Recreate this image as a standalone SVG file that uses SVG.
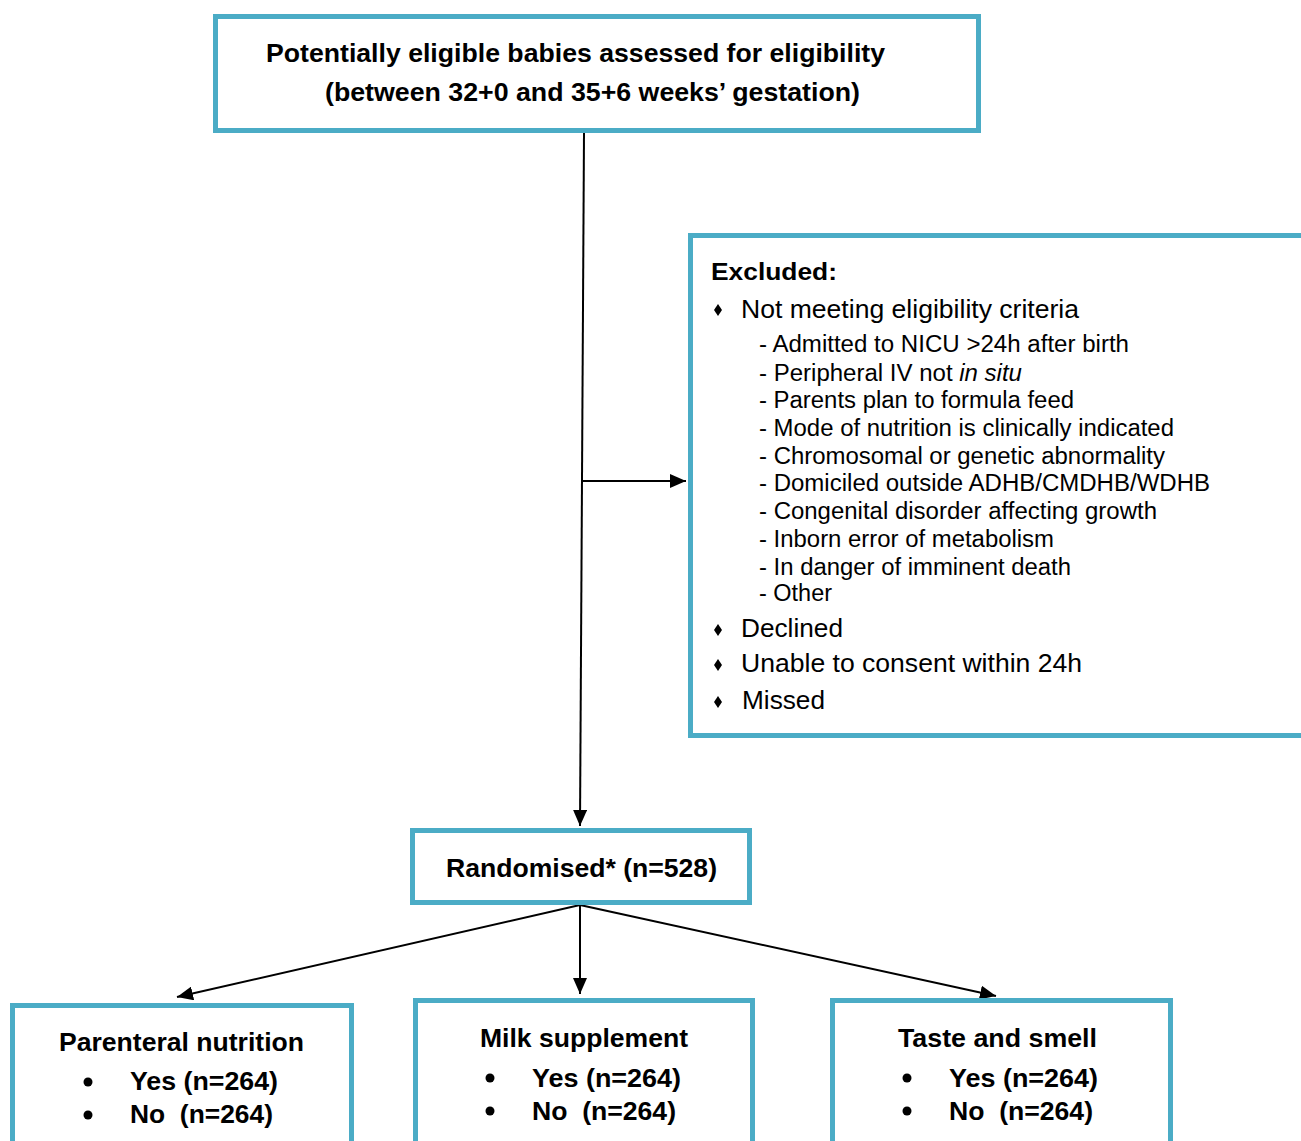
<svg xmlns="http://www.w3.org/2000/svg" width="1301" height="1141" viewBox="0 0 1301 1141">
<defs>
<style>
.box{fill:#fff;stroke:#4BACC6;stroke-width:5}
.b{font-family:"Liberation Sans",Arial,sans-serif;font-weight:bold;fill:#000}
.r{font-family:"Liberation Sans",Arial,sans-serif;fill:#000}
.ln{stroke:#000;stroke-width:2;fill:none}
</style>
<marker id="ah" markerUnits="userSpaceOnUse" markerWidth="18" markerHeight="14" refX="16" refY="7" orient="auto">
<path d="M0,0 L16,7 L0,14 Z" fill="#000"/>
</marker>
</defs>
<rect width="1301" height="1141" fill="#fff"/>
<g id="connectors">
<path class="ln" d="M584,133 L580,826" marker-end="url(#ah)"/>
<path class="ln" d="M582,481 L686,481" marker-end="url(#ah)"/>
<path class="ln" d="M580,905 L177,997" marker-end="url(#ah)"/>
<path class="ln" d="M580,905 L580,994" marker-end="url(#ah)"/>
<path class="ln" d="M580,905 L996,996" marker-end="url(#ah)"/>
</g>
<g id="assessed">
<rect class="box" x="215.5" y="16.5" width="763" height="114"/>
<text class="b" x="266" y="62" font-size="26" textLength="619" lengthAdjust="spacingAndGlyphs">Potentially eligible babies assessed for eligibility</text>
<text class="b" x="325" y="101" font-size="26" textLength="535" lengthAdjust="spacingAndGlyphs">(between 32+0 and 35+6 weeks’ gestation)</text>
</g>
<g id="excluded">
<rect class="box" x="690.5" y="235.5" width="700" height="500"/>
<text class="b" x="711" y="280" font-size="24" textLength="126" lengthAdjust="spacingAndGlyphs">Excluded:</text>
<g fill="#000">
<polygon points="718,304 722,310 718,316 714,310"/>
<polygon points="718,624 722,630 718,636 714,630"/>
<polygon points="718,659 722,665 718,671 714,665"/>
<polygon points="718,696 722,702 718,708 714,702"/>
</g>
<text class="r" x="741" y="318" font-size="26" textLength="338" lengthAdjust="spacingAndGlyphs">Not meeting eligibility criteria</text>
<text class="r" x="759" y="352" font-size="23" textLength="370" lengthAdjust="spacingAndGlyphs">- Admitted to NICU &gt;24h after birth</text>
<text class="r" x="759" y="381" font-size="23" textLength="263" lengthAdjust="spacingAndGlyphs">- Peripheral IV not <tspan font-style="italic">in situ</tspan></text>
<text class="r" x="759" y="408" font-size="23" textLength="315" lengthAdjust="spacingAndGlyphs">- Parents plan to formula feed</text>
<text class="r" x="759" y="436" font-size="23" textLength="415" lengthAdjust="spacingAndGlyphs">- Mode of nutrition is clinically indicated</text>
<text class="r" x="759" y="464" font-size="23" textLength="406" lengthAdjust="spacingAndGlyphs">- Chromosomal or genetic abnormality</text>
<text class="r" x="759" y="491" font-size="23" textLength="451" lengthAdjust="spacingAndGlyphs">- Domiciled outside ADHB/CMDHB/WDHB</text>
<text class="r" x="759" y="519" font-size="23" textLength="398" lengthAdjust="spacingAndGlyphs">- Congenital disorder affecting growth</text>
<text class="r" x="759" y="547" font-size="23" textLength="295" lengthAdjust="spacingAndGlyphs">- Inborn error of metabolism</text>
<text class="r" x="759" y="575" font-size="23" textLength="312" lengthAdjust="spacingAndGlyphs">- In danger of imminent death</text>
<text class="r" x="759" y="601" font-size="23" textLength="73" lengthAdjust="spacingAndGlyphs">- Other</text>
<text class="r" x="741" y="637" font-size="26" textLength="102" lengthAdjust="spacingAndGlyphs">Declined</text>
<text class="r" x="741" y="672" font-size="26" textLength="341" lengthAdjust="spacingAndGlyphs">Unable to consent within 24h</text>
<text class="r" x="742" y="709" font-size="26" textLength="83" lengthAdjust="spacingAndGlyphs">Missed</text>
</g>
<g id="randomised">
<rect class="box" x="412.5" y="830.5" width="337" height="72"/>
<text class="b" x="446" y="877" font-size="26" textLength="271" lengthAdjust="spacingAndGlyphs">Randomised* (n=528)</text>
</g>
<g id="parenteral">
<rect class="box" x="12.5" y="1005.5" width="339" height="200"/>
<text class="b" x="59" y="1051" font-size="26" textLength="245" lengthAdjust="spacingAndGlyphs">Parenteral nutrition</text>
<circle cx="88" cy="1082" r="4.5"/>
<circle cx="88" cy="1115" r="4.5"/>
<text class="b" x="130" y="1090" font-size="26" textLength="148" lengthAdjust="spacingAndGlyphs">Yes (n=264)</text>
<text class="b" x="130" y="1123" font-size="26" textLength="143" lengthAdjust="spacingAndGlyphs" xml:space="preserve">No  (n=264)</text>
</g>
<g id="milk">
<rect class="box" x="415.5" y="1000.5" width="337" height="200"/>
<text class="b" x="480" y="1047" font-size="26" textLength="208" lengthAdjust="spacingAndGlyphs">Milk supplement</text>
<circle cx="490" cy="1078" r="4.5"/>
<circle cx="490" cy="1111" r="4.5"/>
<text class="b" x="532" y="1087" font-size="26" textLength="149" lengthAdjust="spacingAndGlyphs">Yes (n=264)</text>
<text class="b" x="532" y="1120" font-size="26" textLength="144" lengthAdjust="spacingAndGlyphs" xml:space="preserve">No  (n=264)</text>
</g>
<g id="taste">
<rect class="box" x="832.5" y="1000.5" width="338" height="200"/>
<text class="b" x="898" y="1047" font-size="26" textLength="199" lengthAdjust="spacingAndGlyphs">Taste and smell</text>
<circle cx="907" cy="1078" r="4.5"/>
<circle cx="907" cy="1111" r="4.5"/>
<text class="b" x="949" y="1087" font-size="26" textLength="149" lengthAdjust="spacingAndGlyphs">Yes (n=264)</text>
<text class="b" x="949" y="1120" font-size="26" textLength="144" lengthAdjust="spacingAndGlyphs" xml:space="preserve">No  (n=264)</text>
</g>
</svg>
